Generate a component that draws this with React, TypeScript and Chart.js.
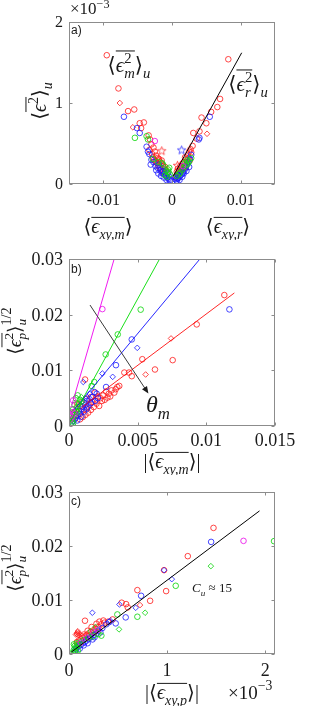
import React, { useEffect, useRef } from 'react';
import { Chart, registerables } from 'chart.js';
Chart.register(...registerables);

// ---------------- Panel a) (x: <eps_xy>, y: <eps^2>_u in units of 1e-3) ----------------
const aXTicks = [-0.01, 0, 0.01];
const aXTickLabels = ['-0.01', '0', '0.01'];
const aYTicks = [0, 1, 2];
const aYTickLabels = ['0', '1', '2'];

const aRedCircles = [
  [-0.0095, 1.59], [-0.0078, 1.18], [-0.0064, 0.9], [-0.0055, 0.92], [-0.0047, 0.75], [-0.0041, 0.76],
  [-0.0045, 0.69], [-0.0034, 0.6], [-0.0032, 0.55], [-0.003, 0.49], [-0.0027, 0.45], [-0.0033, 0.42],
  [-0.0025, 0.4], [-0.0029, 0.37], [-0.0023, 0.35], [-0.0021, 0.32], [-0.0026, 0.3], [-0.0019, 0.29],
  [-0.0017, 0.27], [-0.0022, 0.26], [-0.0015, 0.25], [-0.002, 0.23], [-0.0013, 0.22], [-0.0018, 0.2],
  [-0.0011, 0.19], [-0.0016, 0.18], [-0.0009, 0.17], [-0.0014, 0.15], [-0.0007, 0.14], [-0.0012, 0.13],
  [-0.0024, 0.28], [-0.0019, 0.31], [-0.0015, 0.29], [-0.001, 0.21], [-0.0028, 0.33],
  [0.0082, 1.54], [0.007, 1.05], [0.0066, 0.95], [0.0057, 0.89], [0.0043, 0.82], [0.005, 0.75],
  [0.0031, 0.63], [0.004, 0.65], [0.0036, 0.56], [0.003, 0.47], [0.0027, 0.43], [0.0025, 0.4],
  [0.0023, 0.36], [0.0024, 0.32], [0.0021, 0.3], [0.0019, 0.33], [0.0017, 0.27], [0.0018, 0.23],
  [0.0015, 0.25], [0.0014, 0.2], [0.0012, 0.22], [0.0011, 0.17], [0.0009, 0.19], [0.001, 0.14],
  [0.0008, 0.12], [0.0007, 0.15], [0.0006, 0.1], [0.0005, 0.08], [0.0013, 0.16], [0.0016, 0.18],
  [0.002, 0.21], [0.0026, 0.29], [0.0028, 0.39], [0.0022, 0.27],
];
const aRedDiamonds = [[-0.0076, 1.0], [-0.0057, 0.7], [0.0051, 0.62]];
const aRedStars = [[-0.0015, 0.41], [0.0008, 0.23]];
const aBlueCircles = [
  [-0.007, 0.83], [-0.0051, 0.69], [-0.0047, 0.63], [-0.0037, 0.46], [-0.0035, 0.4], [-0.0033, 0.37],
  [-0.003, 0.3], [-0.0031, 0.24], [-0.0027, 0.27], [-0.0024, 0.22], [-0.0021, 0.2], [-0.0019, 0.24],
  [-0.0017, 0.17], [-0.0015, 0.14], [-0.0013, 0.16], [-0.0011, 0.12], [-0.0009, 0.1], [-0.0007, 0.08],
  [-0.0005, 0.06], [-0.0004, 0.09], [-0.0006, 0.13], [-0.0012, 0.08], [-0.0016, 0.1], [-0.002, 0.13],
  [-0.0023, 0.17], [-0.0003, 0.05], [-0.0008, 0.05],
  [0.0055, 0.83], [0.0039, 0.55], [0.004, 0.57], [0.0028, 0.36], [0.0026, 0.31], [0.0024, 0.27],
  [0.0022, 0.24], [0.002, 0.2], [0.0018, 0.17], [0.0016, 0.14], [0.0014, 0.12], [0.0012, 0.1],
  [0.001, 0.08], [0.0008, 0.07], [0.0006, 0.06], [0.0005, 0.08], [0.0009, 0.11], [0.0013, 0.15],
  [0.0017, 0.13], [0.0021, 0.16], [0.0025, 0.21], [0.0015, 0.09], [0.0011, 0.05], [0.0007, 0.04],
];
const aBlueDiamonds = [[-0.0014, 0.2], [-0.001, 0.15], [-0.0006, 0.07], [0.0004, 0.05], [0.0009, 0.06]];
const aBlueStars = [[0.0014, 0.42]];
const aGreenCircles = [
  [-0.0054, 0.57], [-0.0037, 0.59], [-0.0035, 0.55], [-0.0028, 0.31], [-0.0005, 0.15], [-0.0004, 0.2],
  [-0.0006, 0.18], [-0.0008, 0.16], [-0.001, 0.11], [-0.0013, 0.24], [-0.0015, 0.26], [-0.0003, 0.12],
  [-0.0007, 0.09], [-0.002, 0.27],
  [0.0028, 0.32], [0.0025, 0.28], [0.0023, 0.25], [0.002, 0.23], [0.0017, 0.21], [0.0015, 0.18],
  [0.0012, 0.14], [0.001, 0.12], [0.0007, 0.1], [0.0019, 0.26], [0.0022, 0.29],
];
const aMagentaCircles = [[-0.0025, 0.53], [0.0016, 0.22]];
const aFitLine = [[0.0002, 0.1], [0.01015, 1.62]];

// ---------------- Panel b) (x: |<eps_xy,m>|, y: <eps_p^2>_u^(1/2)) ----------------
const bXTicks = [0, 0.005, 0.01, 0.015];
const bXTickLabels = ['0', '0.005', '0.01', '0.015'];
const bYTicks = [0, 0.01, 0.02, 0.03];
const bYTickLabels = ['0', '0.01', '0.02', '0.03'];

const bRedCircles = [
  [0.01131, 0.02352], [0.0093, 0.01825], [0.00755, 0.01183], [0.00534, 0.012], [0.00626, 0.01015],
  [0.00457, 0.00895], [0.00403, 0.0096], [0.00437, 0.0096], [0.00352, 0.007], [0.00366, 0.0072],
  [0.00117, 0.00835], [0.0034, 0.0066], [0.0031, 0.0064], [0.0033, 0.006], [0.0029, 0.0058],
  [0.0027, 0.0062], [0.0025, 0.0055], [0.0028, 0.0051], [0.0023, 0.005], [0.0021, 0.0053],
  [0.0024, 0.0045], [0.0019, 0.0046], [0.0017, 0.0043], [0.002, 0.004], [0.0015, 0.0038],
  [0.0018, 0.0034], [0.0013, 0.0033], [0.0016, 0.0029], [0.0011, 0.003], [0.0014, 0.0024],
  [0.0009, 0.0026], [0.0012, 0.002], [0.0007, 0.0022], [0.001, 0.0016], [0.0005, 0.0018],
  [0.0008, 0.0012], [0.0022, 0.0036], [0.0026, 0.0047], [0.003, 0.0053], [0.0013, 0.0049],
  [0.0016, 0.0052], [0.0019, 0.006], [0.0006, 0.004], [0.0008, 0.0036], [0.0004, 0.0025], [0.0003, 0.0014],
];
const bRedDiamonds = [[0.00743, 0.01573], [0.00558, 0.00925], [0.0007, 0.0039], [0.0009, 0.0043]];
const bBlueCircles = [
  [0.01168, 0.02095], [0.00457, 0.01555], [0.00342, 0.01093], [0.0027, 0.007], [0.00184, 0.0061],
  [0.00202, 0.0058], [0.0017, 0.0052], [0.0015, 0.0048], [0.0013, 0.0045], [0.0016, 0.0041],
  [0.0012, 0.0038], [0.001, 0.0035], [0.0013, 0.0031], [0.0009, 0.003], [0.0011, 0.0026],
  [0.0007, 0.0027], [0.0008, 0.0022], [0.0006, 0.0019], [0.0005, 0.0015], [0.0004, 0.0012],
  [0.0003, 0.0009], [0.0009, 0.0017], [0.0014, 0.0035], [0.0019, 0.0045], [0.0021, 0.005],
  [0.0011, 0.0042], [0.0002, 0.0006], [0.0006, 0.001],
];
const bBlueDiamonds = [[0.00497, 0.01404], [0.00318, 0.00883], [0.00243, 0.00943], [0.00104, 0.0079], [0.0015, 0.0058], [0.0012, 0.005]];
const bGreenCircles = [
  [0.00522, 0.0209], [0.00355, 0.01645], [0.00267, 0.01285], [0.00165, 0.0072], [0.00184, 0.0079],
  [0.00063, 0.0055], [0.0005, 0.005], [0.0008, 0.0047], [0.0004, 0.0038], [0.0006, 0.0034],
  [0.0003, 0.003], [0.0005, 0.0027], [0.0002, 0.0024], [0.0004, 0.002], [0.0001, 0.0017],
  [0.0003, 0.0014], [0.0001, 0.001], [0.0002, 0.0006], [0.0001, 0.0003], [0.0007, 0.004],
  [0.0009, 0.0044], [0.0003, 0.0005], [0.0006, 0.0025],
];
const bGreenDiamonds = [[0.0009, 0.0052], [0.0002, 0.0012]];
const bMagentaCircles = [[0.00243, 0.021], [0.0003, 0.0046], [0.0002, 0.003], [0.0003, 0.0025], [0.0001, 0.002], [0.0002, 0.0016], [0.0004, 0.0022], [0.0001, 0.0012]];
const bLineMagenta = [[0.0002, 0.0037], [0.00337, 0.0307]];
const bLineGreen = [[0.0001, 0.0008], [0.00675, 0.0307]];
const bLineBlue = [[0.0004, 0.003], [0.0096, 0.0302]];
const bLineRed = [[0.001, 0.0035], [0.01204, 0.0239]];
const bArrow = [[0.00153, 0.02173], [0.00578, 0.00583]];

// ---------------- Panel c) (x: |<eps_xy,p>| in units of 1e-3) ----------------
const cXTicks = [0, 1, 2];
const cXTickLabels = ['0', '1', '2'];
const cYTicks = [0, 0.01, 0.02, 0.03];
const cYTickLabels = ['0', '0.01', '0.02', '0.03'];

const cRedCircles = [
  [1.473, 0.02335], [1.211, 0.01812], [0.969, 0.01553], [0.99, 0.01165], [0.697, 0.01183], [0.827, 0.00985],
  [0.537, 0.0095], [0.582, 0.00924], [0.599, 0.00863], [0.445, 0.0064], [0.163, 0.00616], [0.4, 0.006],
  [0.36, 0.0058], [0.33, 0.0055], [0.3, 0.005], [0.27, 0.0047], [0.25, 0.0044], [0.22, 0.0041],
  [0.2, 0.0038], [0.18, 0.0035], [0.16, 0.0032], [0.14, 0.003], [0.12, 0.0027], [0.1, 0.0025],
  [0.08, 0.0022], [0.31, 0.006], [0.28, 0.0056], [0.35, 0.0062], [0.23, 0.005], [0.19, 0.0043],
  [0.15, 0.0036], [0.26, 0.004], [0.21, 0.0034], [0.13, 0.0033], [0.09, 0.0018],
];
const cRedDiamonds = [[0.724, 0.00906], [0.085, 0.004], [0.095, 0.0035], [0.08, 0.0037], [0.09, 0.0042], [0.1, 0.0038], [0.07, 0.0036]];
const cBlueCircles = [
  [1.449, 0.02076], [0.735, 0.01078], [0.578, 0.00678], [0.476, 0.00567], [0.41, 0.0059], [0.38, 0.0055],
  [0.34, 0.0048], [0.3, 0.0043], [0.28, 0.0038], [0.25, 0.0035], [0.22, 0.0031], [0.2, 0.0028],
  [0.18, 0.0025], [0.16, 0.0022], [0.14, 0.002], [0.12, 0.0017], [0.1, 0.0014], [0.08, 0.0012],
  [0.07, 0.0009], [0.06, 0.0006], [0.24, 0.0027], [0.19, 0.002], [0.15, 0.0016], [0.26, 0.0031],
  [0.11, 0.001], [0.32, 0.004],
];
const cBlueDiamonds = [[0.969, 0.01553], [1.048, 0.01386], [0.68, 0.00856], [0.514, 0.00918], [0.238, 0.00764], [0.42, 0.0062], [0.09, 0.0015]];
const cGreenCircles = [
  [2.09, 0.0209], [1.088, 0.01263], [0.697, 0.0069], [0.493, 0.00733], [0.06, 0.0004], [0.05, 0.0008],
  [0.07, 0.0012], [0.05, 0.0018], [0.08, 0.002], [0.06, 0.0015], [0.1, 0.0017], [0.12, 0.0022],
  [0.15, 0.0026], [0.2, 0.003], [0.25, 0.0033], [0.3, 0.0037], [0.33, 0.0034], [0.09, 0.0006],
  [0.04, 0.0003], [0.07, 0.0003],
];
const cGreenDiamonds = [[1.446, 0.01627], [0.776, 0.00764], [0.51, 0.00456], [0.27, 0.005], [0.22, 0.0042]];
const cMagentaCircles = [[1.779, 0.02095], [0.3, 0.0045], [0.25, 0.004], [0.18, 0.003], [0.12, 0.0021]];
const cFitLine = [[0.02, 0.0003], [1.942, 0.0265]];

// ---------------- styling helpers ----------------
const SERIF = '"Liberation Serif","DejaVu Serif",serif';
const RED = 'rgba(255,25,25,0.8)';
const BLUE = 'rgba(25,25,255,0.8)';
const GREEN = 'rgba(20,215,20,0.85)';
const MAGENTA = 'rgba(235,20,235,0.85)';
const TXT = '#1a1a1a';

type Seg = { t: string; s?: number; dy?: number; it?: boolean; ov?: boolean; nx?: boolean };

function drawMath(
  ctx: CanvasRenderingContext2D, segs: Seg[], x: number, y: number, size: number,
  opt: { align?: 'left' | 'center'; rot?: boolean; color?: string } = {}
) {
  const fontOf = (sg: Seg) => `${sg.it ? 'italic ' : ''}${(sg.s || 1) * size}px ${SERIF}`;
  const pos: { x: number; w: number }[] = [];
  let cx = 0; let stackW = 0;
  for (const sg of segs) {
    ctx.font = fontOf(sg);
    const w = ctx.measureText(sg.t).width;
    pos.push({ x: cx, w });
    if (sg.nx) { stackW = w; } else { cx += Math.max(w, stackW); stackW = 0; }
  }
  const total = cx;
  const start = opt.align === 'left' ? 0 : -total / 2;
  ctx.save();
  ctx.translate(x, y);
  if (opt.rot) ctx.rotate(-Math.PI / 2);
  ctx.fillStyle = opt.color || TXT;
  ctx.strokeStyle = opt.color || TXT;
  ctx.textBaseline = 'alphabetic';
  ctx.textAlign = 'left';
  let ox0 = Infinity, ox1 = -Infinity, otop = 0;
  segs.forEach((sg, i) => {
    ctx.font = fontOf(sg);
    const dy = (sg.dy || 0) * size;
    ctx.fillText(sg.t, start + pos[i].x, dy);
    if (sg.ov) {
      ox0 = Math.min(ox0, start + pos[i].x);
      ox1 = Math.max(ox1, start + pos[i].x + pos[i].w);
      otop = Math.max(otop, -dy + 0.66 * (sg.s || 1) * size);
    }
  });
  if (ox1 > ox0) {
    const oy = -(otop + 0.12 * size);
    ctx.lineWidth = Math.max(0.8, size / 20);
    ctx.beginPath();
    ctx.moveTo(ox0, oy);
    ctx.lineTo(ox1, oy);
    ctx.stroke();
  }
  ctx.restore();
}

// box with inward ticks, and tick labels placed through the chart's own scales
function drawFrame(ctx: CanvasRenderingContext2D, chart: any, xLabels: string[], yLabels: string[], size: number, xBase: number) {
  const { left, right, top, bottom } = chart.chartArea;
  ctx.save();
  ctx.strokeStyle = '#8c8c8c';
  ctx.lineWidth = 1;
  const L = Math.round(left) + 0.5, R = Math.round(right) - 0.5, T = Math.round(top) + 0.5, B = Math.round(bottom) - 0.5;
  ctx.strokeRect(L, T, R - L, B - T);
  ctx.beginPath();
  const xs = chart.scales.x, ys = chart.scales.y;
  xs.ticks.forEach((t: any) => {
    const p = Math.round(xs.getPixelForValue(t.value)) + 0.5;
    ctx.moveTo(p, B); ctx.lineTo(p, B - 3);
    ctx.moveTo(p, T); ctx.lineTo(p, T + 3);
  });
  ys.ticks.forEach((t: any) => {
    const p = Math.round(ys.getPixelForValue(t.value)) + 0.5;
    ctx.moveTo(L, p); ctx.lineTo(L + 3, p);
    ctx.moveTo(R, p); ctx.lineTo(R - 3, p);
  });
  ctx.stroke();
  ctx.font = `${size}px ${SERIF}`;
  ctx.fillStyle = TXT;
  ctx.textBaseline = 'alphabetic';
  ctx.textAlign = 'center';
  xs.ticks.forEach((t: any, i: number) => {
    ctx.fillText(xLabels[i], xs.getPixelForValue(t.value), bottom + xBase);
  });
  ctx.textAlign = 'right';
  ys.ticks.forEach((t: any, i: number) => {
    ctx.fillText(yLabels[i], left - 6, ys.getPixelForValue(t.value) + 0.33 * size);
  });
  ctx.restore();
}

function panelLabel(ctx: CanvasRenderingContext2D, t: string, x: number, y: number) {
  ctx.save();
  ctx.font = '12px "Liberation Sans", Arial, sans-serif';
  ctx.fillStyle = TXT;
  ctx.textAlign = 'left';
  ctx.textBaseline = 'alphabetic';
  ctx.fillText(t, x, y);
  ctx.restore();
}

function starImg(color: string) {
  const c = document.createElement('canvas');
  c.width = 11; c.height = 11;
  const g = c.getContext('2d')!;
  g.strokeStyle = color; g.lineWidth = 0.9;
  g.beginPath();
  for (let i = 0; i < 10; i++) {
    const r = i % 2 ? 1.9 : 4.4;
    const a = -Math.PI / 2 + (i * Math.PI) / 5;
    const px = 5.5 + r * Math.cos(a), py = 5.8 + r * Math.sin(a);
    if (i) g.lineTo(px, py); else g.moveTo(px, py);
  }
  g.closePath(); g.stroke();
  return c;
}

function pts(arr: number[][], color: string, style: any, order: number) {
  return {
    data: arr.map(([x, y]) => ({ x, y })),
    borderColor: color,
    backgroundColor: 'rgba(0,0,0,0)',
    pointStyle: style,
    pointRadius: 2.8,
    pointBorderWidth: 1,
    borderWidth: 1,
    showLine: false,
    order,
  };
}
function line(arr: number[][], color: string) {
  return {
    data: arr.map(([x, y]) => ({ x, y })),
    borderColor: color,
    backgroundColor: color,
    borderWidth: 1,
    pointRadius: 0,
    showLine: true,
    fill: false,
    tension: 0,
    order: 0,
  };
}

function axis(min: number, max: number, ticks: number[], fit: 'width' | 'height', fitVal: number) {
  return {
    type: 'linear',
    min, max,
    afterBuildTicks: (s: any) => { s.ticks = ticks.map((v) => ({ value: v })); },
    afterFit: (s: any) => { s[fit] = fitVal; },
    ticks: { display: false },
    grid: { display: false },
    border: { display: false },
  };
}

function baseOptions(top: number, xs: any, ys: any) {
  return {
    responsive: false,
    animation: false,
    events: [],
    layout: { padding: { left: 0, right: 45, top, bottom: 0 } },
    plugins: { legend: { display: false }, tooltip: { enabled: false } },
    scales: { x: xs, y: ys },
  };
}

const EPS = 'ϵ';

function cfgA(): any {
  const annot = {
    id: 'annotA',
    afterDraw(chart: any) {
      const ctx = chart.ctx;
      drawFrame(ctx, chart, aXTickLabels, aYTickLabels, 16, 21);
      drawMath(ctx, [{ t: '×10' }, { t: '−3', s: 0.72, dy: -0.36 }], 70, 14, 17, { align: 'left' });
      panelLabel(ctx, 'a)', 71, 34);
      drawMath(ctx, [{ t: '⟨' }, { t: EPS, it: true, ov: true }, { t: '2', s: 0.7, dy: -0.42, ov: true }, { t: '⟩' }, { t: 'u', it: true, s: 0.7, dy: 0.28 }], 46, 101, 20, { rot: true });
      drawMath(ctx, [{ t: '⟨' }, { t: EPS, it: true, ov: true }, { t: 'xy,m', it: true, s: 0.7, dy: 0.28, ov: true }, { t: '⟩' }], 108, 233, 20);
      drawMath(ctx, [{ t: '⟨' }, { t: EPS, it: true, ov: true }, { t: 'xy,r', it: true, s: 0.7, dy: 0.28, ov: true }, { t: '⟩' }], 228, 233, 20);
      drawMath(ctx, [{ t: '⟨' }, { t: EPS, it: true, ov: true }, { t: '2', s: 0.7, dy: -0.42, ov: true, nx: true }, { t: 'm', it: true, s: 0.7, dy: 0.28, ov: true }, { t: '⟩' }, { t: 'u', it: true, s: 0.7, dy: 0.28 }], 129, 72, 21);
      drawMath(ctx, [{ t: '⟨' }, { t: EPS, it: true, ov: true }, { t: '2', s: 0.7, dy: -0.42, ov: true, nx: true }, { t: 'r', it: true, s: 0.7, dy: 0.28, ov: true }, { t: '⟩' }, { t: 'u', it: true, s: 0.7, dy: 0.28 }], 248, 91, 21);
    },
  };
  return {
    type: 'scatter',
    data: {
      datasets: [
        pts(aRedCircles, RED, 'circle', 5),
        pts(aRedDiamonds, RED, 'rectRot', 5),
        pts(aRedStars, RED, starImg(RED), 5),
        pts(aBlueCircles, BLUE, 'circle', 4),
        pts(aBlueDiamonds, BLUE, 'rectRot', 4),
        pts(aBlueStars, BLUE, starImg(BLUE), 4),
        pts(aGreenCircles, GREEN, 'circle', 3),
        pts(aMagentaCircles, MAGENTA, 'circle', 2),
        line(aFitLine, '#000'),
      ],
    },
    options: baseOptions(22,
      axis(-0.015, 0.015, aXTicks, 'height', 56),
      axis(0, 2, aYTicks, 'width', 69)),
    plugins: [annot],
  };
}

function cfgB(): any {
  const annot = {
    id: 'annotB',
    afterDraw(chart: any) {
      const ctx = chart.ctx;
      drawFrame(ctx, chart, bXTickLabels, bYTickLabels, 18, 20);
      panelLabel(ctx, 'b)', 71, 38);
      drawMath(ctx, [{ t: '⟨' }, { t: EPS, it: true, ov: true }, { t: '2', s: 0.7, dy: -0.42, ov: true, nx: true }, { t: 'p', it: true, s: 0.7, dy: 0.28, ov: true }, { t: '⟩' }, { t: 'u', it: true, s: 0.7, dy: 0.28, nx: true }, { t: '1/2', s: 0.75, dy: -0.55 }], 21, 96, 19, { rot: true });
      drawMath(ctx, [{ t: '|⟨' }, { t: EPS, it: true, ov: true }, { t: 'xy,m', it: true, s: 0.7, dy: 0.28, ov: true }, { t: '⟩|' }], 172, 233, 20);
      drawMath(ctx, [{ t: 'θ', it: true }, { t: 'm', it: true, s: 0.7, dy: 0.28 }], 158, 177, 24);
      const xs = chart.scales.x, ys = chart.scales.y;
      const x1 = xs.getPixelForValue(bArrow[0][0]), y1 = ys.getPixelForValue(bArrow[0][1]);
      const x2 = xs.getPixelForValue(bArrow[1][0]), y2 = ys.getPixelForValue(bArrow[1][1]);
      const ang = Math.atan2(y2 - y1, x2 - x1);
      ctx.save();
      ctx.strokeStyle = '#3a3a3a'; ctx.fillStyle = '#1a1a1a'; ctx.lineWidth = 1;
      ctx.beginPath(); ctx.moveTo(x1, y1); ctx.lineTo(x2 - 5 * Math.cos(ang), y2 - 5 * Math.sin(ang)); ctx.stroke();
      ctx.beginPath();
      ctx.moveTo(x2, y2);
      ctx.lineTo(x2 - 7 * Math.cos(ang) + 3 * Math.sin(ang), y2 - 7 * Math.sin(ang) - 3 * Math.cos(ang));
      ctx.lineTo(x2 - 7 * Math.cos(ang) - 3 * Math.sin(ang), y2 - 7 * Math.sin(ang) + 3 * Math.cos(ang));
      ctx.closePath(); ctx.fill();
      ctx.restore();
    },
  };
  return {
    type: 'scatter',
    data: {
      datasets: [
        pts(bRedCircles, RED, 'circle', 5),
        pts(bRedDiamonds, RED, 'rectRot', 5),
        pts(bBlueCircles, BLUE, 'circle', 4),
        pts(bBlueDiamonds, BLUE, 'rectRot', 4),
        pts(bGreenCircles, GREEN, 'circle', 3),
        pts(bGreenDiamonds, GREEN, 'rectRot', 3),
        pts(bMagentaCircles, MAGENTA, 'circle', 2),
        line(bLineMagenta, 'rgba(240,0,240,0.9)'),
        line(bLineGreen, 'rgba(0,220,0,0.9)'),
        line(bLineBlue, 'rgba(0,0,255,0.85)'),
        line(bLineRed, 'rgba(255,0,0,0.85)'),
      ],
    },
    options: baseOptions(24,
      axis(0, 0.015, bXTicks, 'height', 49),
      axis(0, 0.03, bYTicks, 'width', 69)),
    plugins: [annot],
  };
}

function cfgC(): any {
  const annot = {
    id: 'annotC',
    afterDraw(chart: any) {
      const ctx = chart.ctx;
      drawFrame(ctx, chart, cXTickLabels, cYTickLabels, 18, 22);
      panelLabel(ctx, 'c)', 71, 35);
      drawMath(ctx, [{ t: '⟨' }, { t: EPS, it: true, ov: true }, { t: '2', s: 0.7, dy: -0.42, ov: true, nx: true }, { t: 'p', it: true, s: 0.7, dy: 0.28, ov: true }, { t: '⟩' }, { t: 'u', it: true, s: 0.7, dy: 0.28, nx: true }, { t: '1/2', s: 0.75, dy: -0.55 }], 21, 98, 19, { rot: true });
      drawMath(ctx, [{ t: '|⟨' }, { t: EPS, it: true, ov: true }, { t: 'xy,p', it: true, s: 0.7, dy: 0.28, ov: true }, { t: '⟩|' }], 172, 229, 20);
      drawMath(ctx, [{ t: '×10' }, { t: '−3', s: 0.72, dy: -0.45 }], 228, 229, 19, { align: 'left' });
      drawMath(ctx, [{ t: 'C', it: true }, { t: 'u', it: true, s: 0.7, dy: 0.28 }, { t: ' ≈ 15' }], 212, 122, 13);
    },
  };
  return {
    type: 'scatter',
    data: {
      datasets: [
        pts(cRedCircles, RED, 'circle', 5),
        pts(cRedDiamonds, RED, 'rectRot', 1),
        pts(cBlueCircles, BLUE, 'circle', 4),
        pts(cBlueDiamonds, BLUE, 'rectRot', 4),
        pts(cGreenCircles, GREEN, 'circle', 3),
        pts(cGreenDiamonds, GREEN, 'rectRot', 3),
        pts(cMagentaCircles, MAGENTA, 'circle', 2),
        line(cFitLine, '#000'),
      ],
    },
    options: baseOptions(22,
      axis(0, 2.1, cXTicks, 'height', 52),
      axis(0, 0.03, cYTicks, 'width', 69)),
    plugins: [annot],
  };
}

export default function App() {
  const ra = useRef<HTMLCanvasElement>(null);
  const rb = useRef<HTMLCanvasElement>(null);
  const rc = useRef<HTMLCanvasElement>(null);
  useEffect(() => {
    const charts = [
      new Chart(ra.current!, cfgA()),
      new Chart(rb.current!, cfgB()),
      new Chart(rc.current!, cfgC()),
    ];
    return () => charts.forEach((c) => c.destroy());
  }, []);
  const cs = (top: number, h: number): React.CSSProperties => ({ position: 'absolute', left: 0, top, width: 320, height: h });
  return (
    <div style={{ position: 'absolute', left: 0, top: 0, width: 320, height: 706, background: '#fff' }}>
      <canvas ref={ra} width={320} height={240} style={cs(0, 240)} />
      <canvas ref={rb} width={320} height={240} style={cs(235, 240)} />
      <canvas ref={rc} width={320} height={236} style={cs(470, 236)} />
    </div>
  );
}
